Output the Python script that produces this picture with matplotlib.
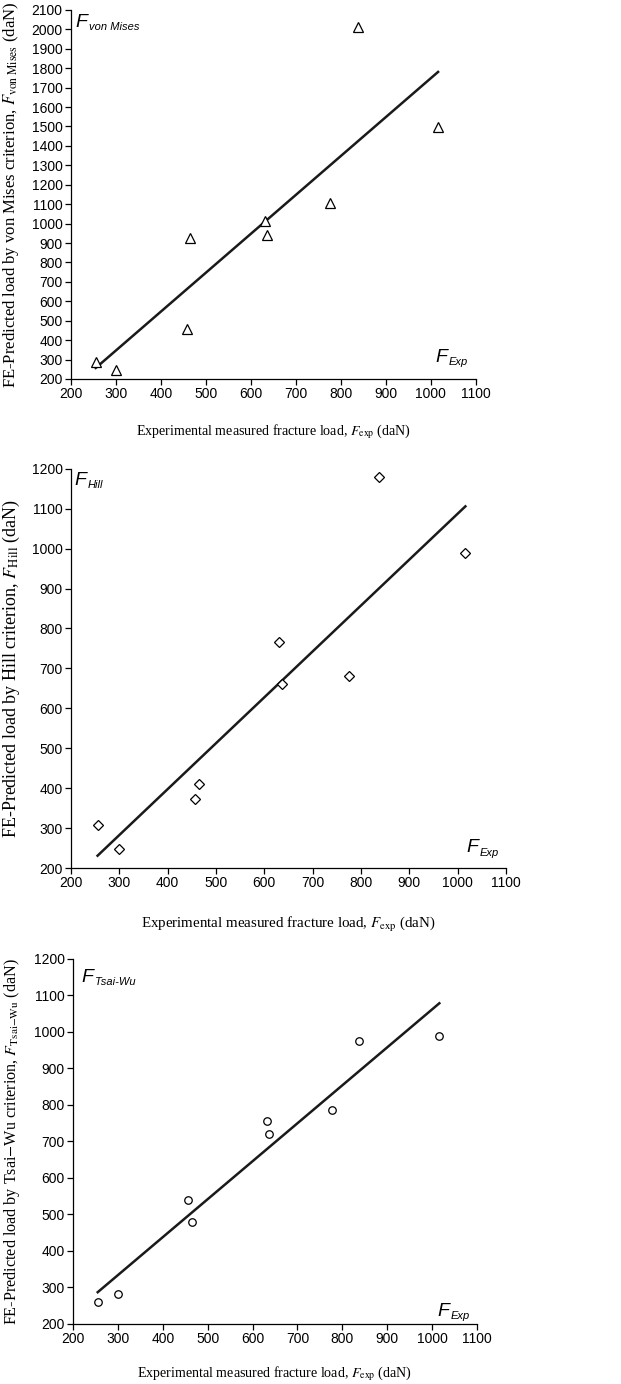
import numpy as np
import matplotlib
matplotlib.use("Agg")
import matplotlib.pyplot as plt

plt.rcParams["font.family"] = ["Liberation Sans", "DejaVu Sans"]

# experimental fracture load (daN), shared by the three panels
f_exp = [255, 300, 457, 465, 631, 636, 776, 837, 1016]
# FE predicted loads (daN)
f_von_mises = [285, 245, 455, 925, 1015, 940, 1105, 2010, 1495]
f_hill = [308, 248, 372, 410, 767, 662, 680, 1180, 990]
f_tsai_wu = [260, 282, 540, 480, 755, 720, 785, 975, 988]

x_ticks = list(range(200, 1101, 100))
vm_ticks = list(range(200, 2101, 100))
hill_ticks = list(range(200, 1201, 100))
tw_ticks = list(range(200, 1201, 100))

xlabel = r"Experimental measured fracture load, $F_{\rm exp}$ (daN)"

panels = [
    dict(y=f_von_mises, marker="^", ms=7, yticks=vm_ticks,
         ylabel=r"FE-Predicted load by von Mises criterion, $F_{\rm von\ Mises}$ (daN)",
         sub="von Mises", rect=[0.1143, 0.7262, 0.652, 0.2666],
         tag_xy=(0.012, 0.955), exp_xy=(0.899, 0.046), ylab_x=-0.123, xlab_y=-0.119,
         ylab_fs=12.0, xlab_fs=10.1),
    dict(y=f_hill, marker="D", ms=5, yticks=hill_ticks,
         ylabel=r"FE-Predicted load by Hill criterion, $F_{\rm Hill}$ (daN)",
         sub="Hill", rect=[0.1143, 0.3728, 0.7005, 0.2885],
         tag_xy=(0.009, 0.959), exp_xy=(0.91, 0.039), ylab_x=-0.113, xlab_y=-0.118,
         ylab_fs=13.0, xlab_fs=10.8),
    dict(y=f_tsai_wu, marker="o", ms=5.4, yticks=tw_ticks,
         ylabel=r"FE-Predicted load by Tsai$-$Wu criterion, $F_{\rm Tsai{-}Wu}$ (daN)",
         sub="Tsai-Wu", rect=[0.1176, 0.0434, 0.6506, 0.2637],
         tag_xy=(0.0215, 0.938), exp_xy=(0.903, 0.023), ylab_x=-0.126, xlab_y=-0.112,
         ylab_fs=11.6, xlab_fs=10.1),
]


def tag(ax, xy, sub):
    # big italic F with a small italic subscript, as in the original
    ax.text(*xy, "F", transform=ax.transAxes, fontsize=14, style="italic",
            ha="left", va="baseline")
    ax.annotate(sub, xy=xy, xycoords="axes fraction", xytext=(9.5, -2.2),
                textcoords="offset points", fontsize=8, style="italic",
                ha="left", va="baseline")


fig = plt.figure(figsize=(6.21, 13.84), dpi=100)

for p in panels:
    ax = fig.add_axes(p["rect"])
    x = np.array(f_exp, dtype=float)
    y = np.array(p["y"], dtype=float)
    ax.plot(x, y, linestyle="none", marker=p["marker"], ms=p["ms"],
            mfc="white", mec="black", mew=0.9, zorder=3)

    # least squares trend line over the measured range
    k, b = np.polyfit(x, y, 1)
    xs = np.array([x.min(), x.max()])
    ax.plot(xs, k * xs + b, color="#1a1a1a", lw=1.8, zorder=2)

    ax.set_xlim(200, 1100)
    ax.set_ylim(p["yticks"][0], p["yticks"][-1])
    ax.set_xticks(x_ticks)
    ax.set_yticks(p["yticks"])
    ax.tick_params(direction="out", length=4, width=0.9, labelsize=10, pad=2)
    for side in ["top", "right"]:
        ax.spines[side].set_visible(False)
    for side in ["left", "bottom"]:
        ax.spines[side].set_linewidth(0.9)

    ax.set_xlabel(xlabel, fontsize=p["xlab_fs"], family="Liberation Serif",
                  math_fontfamily="stix")
    ax.set_ylabel(p["ylabel"], fontsize=p["ylab_fs"], family="Liberation Serif",
                  math_fontfamily="stix")
    ax.xaxis.set_label_coords(0.5, p["xlab_y"])
    ax.yaxis.set_label_coords(p["ylab_x"], 0.5)

    tag(ax, p["tag_xy"], p["sub"])
    tag(ax, p["exp_xy"], "Exp")

fig.savefig("out.png", dpi=100)
